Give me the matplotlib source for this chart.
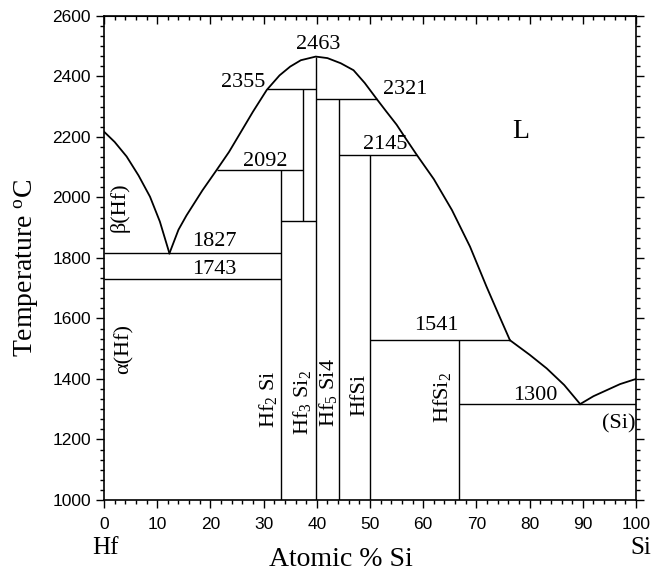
import matplotlib
matplotlib.use("Agg")
import matplotlib.pyplot as plt
from matplotlib.ticker import MultipleLocator

plt.rcParams['mathtext.fontset'] = 'custom'
plt.rcParams['mathtext.rm'] = 'Liberation Serif'
plt.rcParams['mathtext.it'] = 'Liberation Serif:italic'

# liquidus curves (at.% Si, temperature)
liq_hf_x = [0, 2, 4.25, 6.5, 8.65, 10.5, 12.3]
liq_hf_t = [2217, 2183, 2135, 2072, 2002, 1920, 1815]

dome_x = [12.3, 14, 15.5, 18.5, 21.2, 23.5, 25.6, 28, 30.6, 33, 35, 37, 39.8,
          42, 44.5, 46.9, 49, 51.3, 53, 55, 56.5, 58.8, 62, 65.4, 68.8, 71.9, 74, 76.3]
dome_t = [1815, 1893, 1940, 2023, 2091, 2150, 2212, 2283, 2355, 2403, 2432, 2453, 2465,
          2460, 2443, 2420, 2378, 2324, 2285, 2240, 2200, 2140, 2060, 1958, 1837, 1705, 1620, 1528]

liq_si_x = [76.3, 80, 83.2, 86.5, 89.5]
liq_si_t = [1528, 1480, 1435, 1380, 1317]

si_x = [89.5, 92, 94.5, 97, 100]
si_t = [1317, 1343, 1363, 1383, 1400]

# invariant lines
h_x0 = [0, 0, 21.2, 30.6, 33.3, 39.8, 44.2, 50, 66.7]
h_x1 = [33.3, 33.3, 37.4, 39.8, 39.8, 51.3, 58.8, 76.3, 100]
h_t = [1815, 1729, 2090, 2357, 1923, 2324, 2140, 1528, 1317]

# compound lines
v_x = [33.3, 37.4, 39.8, 44.2, 50, 66.7]
v_t0 = [1000, 1923, 1000, 1000, 1000, 1000]
v_t1 = [2090, 2357, 2465, 2324, 2140, 1528]

# labels
num_labels = ["2463", "2355", "2092", "1827", "1743", "2321", "2145", "1541", "1300"]
num_x = [40.2, 26.2, 30.3, 20.7, 20.7, 56.6, 52.8, 62.5, 81.0]
num_t = [2504, 2378, 2117, 1853, 1760, 2355, 2173, 1575, 1346]

phase_labels = [r"β(Hf)", r"α(Hf)", r"Hf$_2$ Si", r"Hf$_3$ Si$_2$", r"Hf$_5$ Si4", "HfSi", r"HfSi$_2$"]
phase_x = [3.0, 3.8, 30.9, 37.3, 42.1, 48.1, 63.6]
phase_t = [1969, 1499, 1333, 1323, 1355, 1348, 1339]

fig = plt.figure(figsize=(6.52, 5.76), dpi=100)
ax = fig.add_axes([0.1595, 0.1319, 0.816, 0.8408])

ax.plot(liq_hf_x, liq_hf_t, color="k", lw=1.3)
ax.plot(dome_x, dome_t, color="k", lw=1.3)
ax.plot(liq_si_x, liq_si_t, color="k", lw=1.3)
ax.plot(si_x, si_t, color="k", lw=1.3)
ax.hlines(h_t, h_x0, h_x1, color="k", lw=1.0)
ax.vlines(v_x, v_t0, v_t1, color="k", lw=1.0)

serif = "Liberation Serif"
for s, x, t in zip(num_labels, num_x, num_t):
    ax.text(x, t, s, ha="center", va="center", fontsize=16, family=serif)
for s, x, t in zip(phase_labels, phase_x, phase_t):
    ax.text(x, t, s, ha="center", va="center", rotation=90, fontsize=16, family=serif)
ax.text(78.4, 2219, "L", ha="center", va="center", fontsize=20, family=serif)
ax.text(96.7, 1251, "(Si)", ha="center", va="center", fontsize=16, family=serif)

ax.set_xlim(0, 100)
ax.set_ylim(1000, 2600)
ax.xaxis.set_major_locator(MultipleLocator(10))
ax.xaxis.set_minor_locator(MultipleLocator(2))
ax.yaxis.set_major_locator(MultipleLocator(200))
ax.yaxis.set_minor_locator(MultipleLocator(200 / 6))
ax.tick_params(which="both", direction="out", right=True, width=1.0,
               labelsize=12.5, labelfontfamily="Liberation Sans")
ax.tick_params(which="major", length=6)
ax.tick_params(which="minor", length=3)
ax.tick_params(axis="x", pad=6)
for sp in ax.spines.values():
    sp.set_linewidth(1.2)

top = ax.secondary_xaxis("top")
top.xaxis.set_major_locator(MultipleLocator(10))
top.xaxis.set_minor_locator(MultipleLocator(2))
top.tick_params(which="both", direction="in", labeltop=False, width=1.0)
top.tick_params(which="major", length=6)
top.tick_params(which="minor", length=3)

ax.set_ylabel(r"Temperature $^{\mathrm{o}}$C", fontsize=20, family=serif)
ax.yaxis.set_label_coords(-0.118, 0.479)
fig.text(341 / 652, 1 - 559 / 576, "Atomic % Si", ha="center", va="center", fontsize=20, family=serif)
fig.text(105 / 652, 1 - 548 / 576, "Hf", ha="center", va="center", fontsize=18, family=serif)
fig.text(641 / 652, 1 - 548 / 576, "Si", ha="center", va="center", fontsize=18, family=serif)

fig.savefig("out.png", dpi=100)
